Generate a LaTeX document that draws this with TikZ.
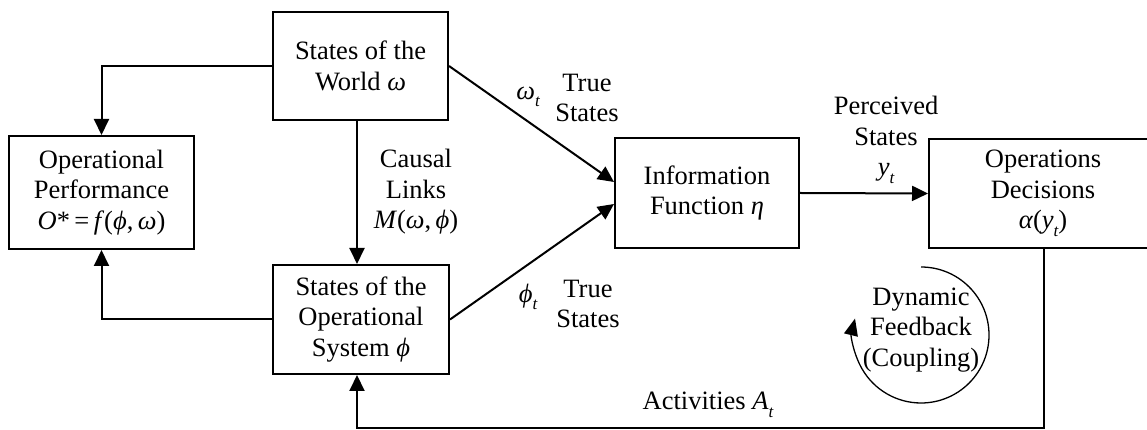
\documentclass[tikz,border=0pt]{standalone}
\usepackage{fontspec}
\setmainfont{Liberation Serif}
\usetikzlibrary{arrows.meta,calc}
\newcommand\subi[1]{\raisebox{-0.28em}{\fontsize{17}{17}\selectfont\itshape #1}}
\begin{document}
\begin{tikzpicture}[x=1pt,y=1pt,
  box/.style={draw,line width=2pt,inner sep=0pt,align=center,font=\fontsize{26.5}{30.5}\selectfont},
  lbl/.style={inner sep=0pt,align=center,font=\fontsize{26.5}{30.5}\selectfont},
  arr/.style={line width=2pt,-{Triangle[length=16pt,width=15pt]}},
  ln/.style={line width=2pt}]
\useasboundingbox (0,0) rectangle (1147,430);
\fill[white] (0,0) rectangle (1147,430);
\clip (0,0) rectangle (1147,430);
% boxes
\node[box,minimum width=175pt,minimum height=108pt] (W) at (360.5,364) {States of the\\World \textit{ω}};
\node[box,minimum width=185pt,minimum height=113pt] (P) at (101.5,237.5) {Operational\\Performance\\\textit{O}*\,=\,\textit{f}(\textit{ϕ},\,\textit{ω})};
\node[box,minimum width=176pt,minimum height=109pt] (S) at (361,110.5) {States of the\\Operational\\System \textit{ϕ}};
\node[box,minimum width=184pt,minimum height=110pt] (I) at (707,237) {Information\\Function \textit{η}};
\node[box,minimum width=228pt,minimum height=109pt] (D) at (1043,236.5) {Operations\\Decisions\\\textit{α}(\textit{y}\subi{t})};
% labels
\node[lbl] (cl) at (416,238) {Causal\\Links\\\textit{M}(\textit{ω},\,\textit{ϕ})};
\node[lbl] (wt) at (528,333) {\textit{ω}\subi{t}};
\node[lbl] (ts1) at (587,332) {True\\States};
\node[lbl] (pt) at (528,133) {\textit{ϕ}\subi{t}};
\node[lbl] (ts2) at (588,126) {True\\States};
\node[lbl] (ps) at (886,290) {Perceived\\States\\\textit{y}\subi{t}};
\node[lbl] (ac) at (708,25) {Activities \textit{A}\subi{t}};
\node[lbl] (df) at (921,100) {Dynamic\\Feedback\\(Coupling)};
% connectors
\draw[arr] (W.west) -| (P.north);
\draw[arr] (S.west) -| (P.south);
\draw[arr] ($(W.south)+(-3.5,0)$) -- ($(S.north)+(-4,0)$);
\draw[arr] (W.east) -- ($(I.west)+(0,11)$);
\draw[arr] (S.east) -- ($(I.west)+(0,-11)$);
\draw[arr] (I.east) -- (D.west);
\coordinate (bc) at ($(D.south)+(1,0)$);
\coordinate (bl) at (1044,2);
\draw[arr] (bc) -- (bl) -| ($(S.south)+(-4,0)$);
% feedback loop
\coordinate (fc) at (921,95);
\draw[line width=1.3pt,-{Triangle[length=17pt,width=14pt]}] ($(fc)+(90:68)$) arc[start angle=90,end angle=-194,radius=68];
\end{tikzpicture}
\end{document}
